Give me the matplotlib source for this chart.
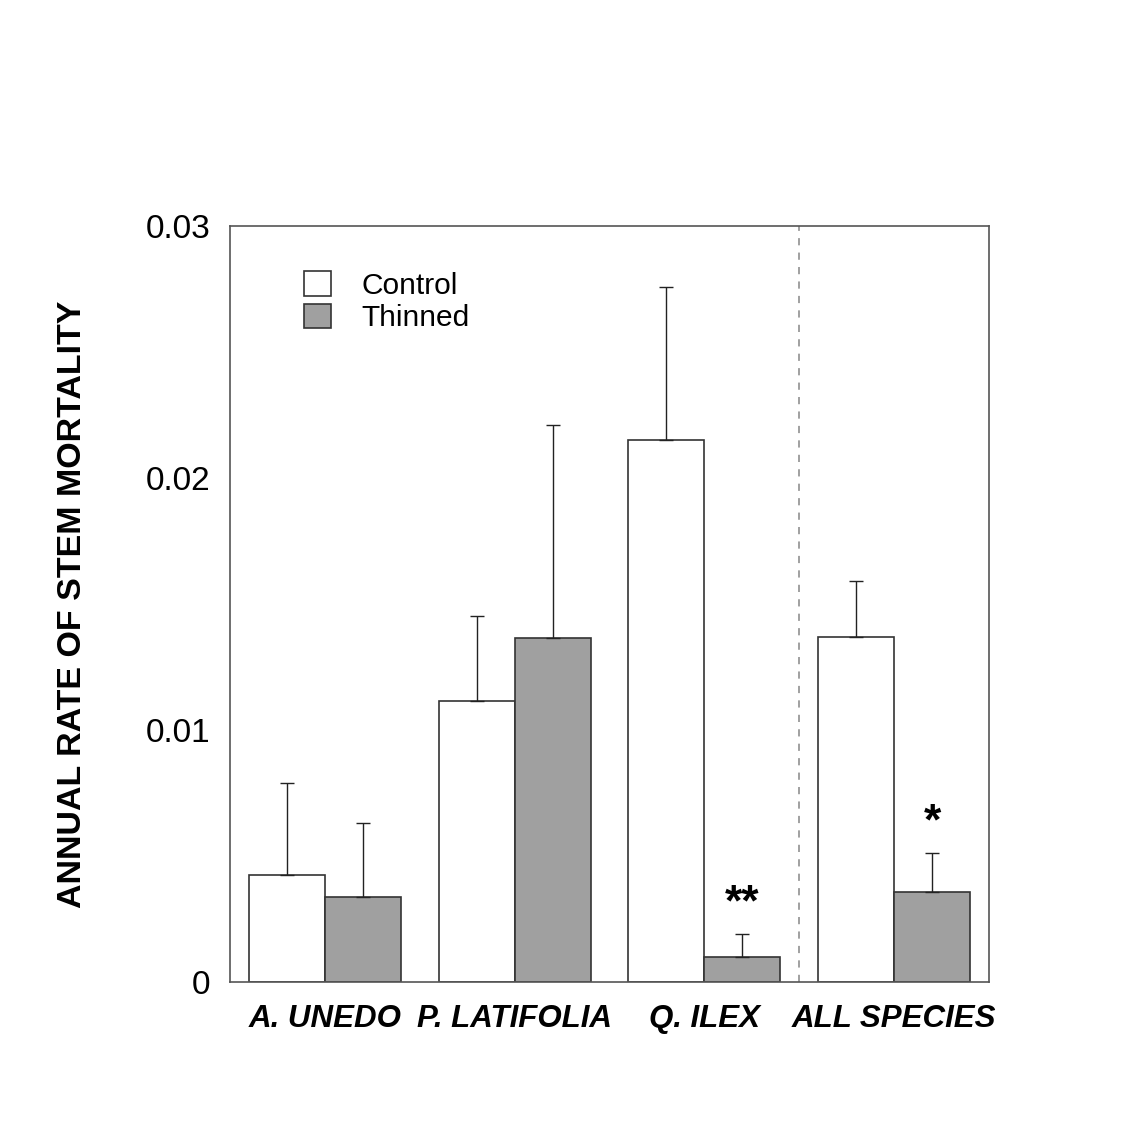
import matplotlib
matplotlib.use("Agg")
import matplotlib.pyplot as plt
import numpy as np

species = ["A. UNEDO", "P. LATIFOLIA", "Q. ILEX", "ALL SPECIES"]
control = [0.00423, 0.01116, 0.02149, 0.01369]
control_err = [0.00367, 0.00336, 0.00609, 0.00221]
thinned = [0.00336, 0.01365, 0.00099, 0.00356]
thinned_err = [0.00294, 0.00847, 0.00091, 0.00154]
signif = ["", "", "**", "*"]

plt.rcParams['font.family'] = ['Liberation Sans', 'DejaVu Sans']

fig = plt.figure(figsize=(11.31, 11.29), dpi=100)
ax = fig.add_axes([0.2034, 0.1302, 0.671, 0.6696])

x = np.arange(len(species)) + 0.5
w = 0.4
ax.bar(x - w / 2, control, w, color='white', edgecolor='#333333', linewidth=1.2, label='Control')
ax.bar(x + w / 2, thinned, w, color='#a0a0a0', edgecolor='#333333', linewidth=1.2, label='Thinned')
ax.errorbar(x - w / 2, control, yerr=[np.zeros(4), control_err], fmt='none',
            ecolor='#222222', elinewidth=1, capsize=5, capthick=1)
ax.errorbar(x + w / 2, thinned, yerr=[np.zeros(4), thinned_err], fmt='none',
            ecolor='#222222', elinewidth=1, capsize=5, capthick=1)

for xi, t, e, s in zip(x, thinned, thinned_err, signif):
    if s:
        ax.text(xi + w / 2, t + e + 0.0004, s, ha='center', va='bottom',
                fontsize=32, fontweight='bold')

ax.axvline(3.0, color='#999999', linestyle=(0, (4, 4)), linewidth=1.3)

ax.set_xlim(0, 4)
ax.set_ylim(0, 0.03)
ax.set_yticks([0, 0.01, 0.02, 0.03])
ax.set_yticklabels(['0', '0.01', '0.02', '0.03'])
ax.set_xticks(x)
ax.set_xticklabels(species, fontsize=22.5, fontweight='bold', style='italic')
ax.tick_params(axis='y', length=0, labelsize=24, pad=14)
ax.tick_params(axis='x', length=0, pad=16)
for sp in ax.spines.values():
    sp.set_color('#555555')
    sp.set_linewidth(1.2)

ax.set_ylabel('ANNUAL RATE OF STEM MORTALITY', fontsize=24.5, fontweight='bold', labelpad=42)

ax.legend(loc='upper left', bbox_to_anchor=(0.098, 0.94), frameon=False,
          fontsize=21.5, handlelength=0.9, handleheight=0.9, handletextpad=1.0,
          labelspacing=0.12, borderpad=0, borderaxespad=0)

fig.savefig('out.png', dpi=100)
